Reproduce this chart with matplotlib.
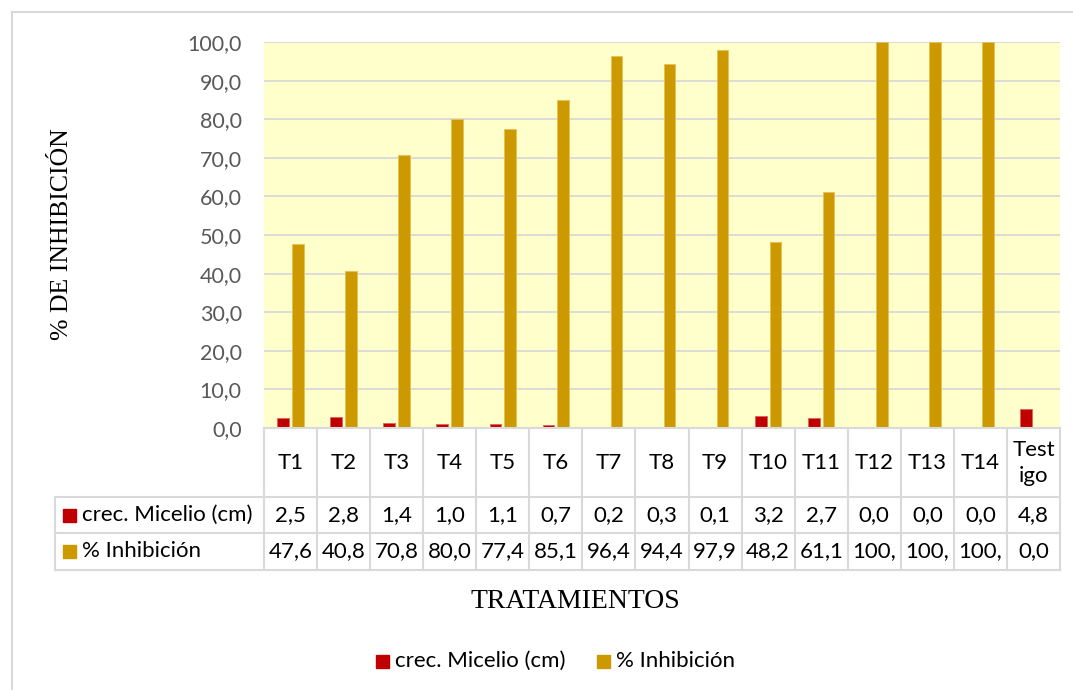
import matplotlib.pyplot as plt
import matplotlib.patches as mpatches
from matplotlib.lines import Line2D

tratamientos = ["T1", "T2", "T3", "T4", "T5", "T6", "T7", "T8", "T9", "T10",
                "T11", "T12", "T13", "T14", "Test\nigo"]
micelio = [2.5, 2.8, 1.4, 1.0, 1.1, 0.7, 0.2, 0.3, 0.1, 3.2, 2.7, 0.0, 0.0, 0.0, 4.8]
inhibicion = [47.6, 40.8, 70.8, 80.0, 77.4, 85.1, 96.4, 94.4, 97.9, 48.2, 61.1,
              100.0, 100.0, 100.0, 0.0]
# textos tal como aparecen en la tabla (celdas recortadas)
micelio_txt = ["2,5", "2,8", "1,4", "1,0", "1,1", "0,7", "0,2", "0,3", "0,1", "3,2",
               "2,7", "0,0", "0,0", "0,0", "4,8"]
inhibicion_txt = ["47,6", "40,8", "70,8", "80,0", "77,4", "85,1", "96,4", "94,4", "97,9",
                  "48,2", "61,1", "100,", "100,", "100,", "0,0"]

rojo = "#C00000"
dorado = "#CC9900"
gris = "#D9D9D9"
fuente = ["Lato", "DejaVu Sans"]
serif = ["Liberation Serif", "DejaVu Serif"]

W, H = 1073, 690
fig = plt.figure(figsize=(W / 100, H / 100), dpi=100)

# ejes en pixeles -> fraccion
x0, x1, y0, y1 = 264, 1060, 42, 428
ax = fig.add_axes([x0 / W, 1 - y1 / H, (x1 - x0) / W, (y1 - y0) / H])
ax.set_facecolor("#FFFFCC")

n = len(tratamientos)
pos = list(range(n))
ancho = 0.22
ax.bar([p - 0.14 for p in pos], micelio, width=ancho, color=rojo,
       edgecolor="#E06060", linewidth=0.6, zorder=3)
ax.bar([p + 0.14 for p in pos], inhibicion, width=ancho, color=dorado,
       edgecolor="#E8C050", linewidth=0.6, zorder=3)

ax.set_xlim(-0.5, n - 0.5)
ax.set_ylim(0, 100)
ax.set_yticks(range(0, 101, 10))
ax.set_yticklabels([f"{v},0" for v in range(0, 101, 10)], fontsize=15.5,
                   color="#595959", family=fuente)
ax.tick_params(axis="y", length=0, pad=16)
ax.tick_params(axis="x", length=0, labelbottom=False)
ax.yaxis.grid(True, color=gris, linewidth=1.3, zorder=0)
for s in ax.spines.values():
    s.set_visible(False)

# tabla de datos bajo el grafico
def fy(py):
    return 1 - py / H

def fx(px):
    return px / W

filas = [428, 497, 533, 570]
cw = (x1 - x0) / n
lineas = []
lineas.append(Line2D([fx(x0), fx(x1)], [fy(428), fy(428)]))
for py in filas[1:]:
    lineas.append(Line2D([fx(55), fx(x1)], [fy(py), fy(py)]))
for i in range(n + 1):
    px = x0 + i * cw
    lineas.append(Line2D([fx(px), fx(px)], [fy(428), fy(570)]))
lineas.append(Line2D([fx(55), fx(55)], [fy(497), fy(570)]))
for ln in lineas:
    ln.set_color(gris)
    ln.set_linewidth(1.5)
    fig.add_artist(ln)

for i in range(n):
    cx = fx(x0 + (i + 0.5) * cw)
    fig.text(cx, fy(463), tratamientos[i], ha="center", va="center", fontsize=16,
             family=fuente, linespacing=1.35)
    fig.text(cx, fy(515), micelio_txt[i], ha="center", va="center", fontsize=16,
             family=fuente)
    fig.text(cx, fy(551), inhibicion_txt[i], ha="center", va="center", fontsize=16,
             family=fuente)

for py, color, nombre in [(515, rojo, "crec. Micelio (cm)"), (551, dorado, "% Inhibición")]:
    fig.add_artist(mpatches.Rectangle((fx(63), fy(py + 7)), 13 / W, 13 / H,
                                      color=color, transform=fig.transFigure))
    fig.text(fx(82), fy(py), nombre, ha="left", va="center", fontsize=16, family=fuente)

# titulos de ejes
fig.text(fx(62), fy(234), "% DE INHIBICIÓN", rotation=90, ha="center", va="center",
         fontsize=18.5, family=serif)
fig.text(fx(575), fy(601), "TRATAMIENTOS", ha="center", va="center",
         fontsize=20, family=serif)

# leyenda inferior
for px, color, nombre in [(376, rojo, "crec. Micelio (cm)"), (597, dorado, "% Inhibición")]:
    fig.add_artist(mpatches.Rectangle((fx(px), fy(668)), 13 / W, 13 / H,
                                      color=color, transform=fig.transFigure))
    fig.text(fx(px + 19), fy(661), nombre, ha="left", va="center", fontsize=16,
             family=fuente)

# borde del grafico (solo arriba e izquierda visibles)
fig.add_artist(Line2D([fx(12), 1], [fy(12), fy(12)], color=gris, linewidth=1.5))
fig.add_artist(Line2D([fx(12), fx(12)], [fy(12), 0], color=gris, linewidth=1.5))

fig.savefig("out.png", dpi=100)
